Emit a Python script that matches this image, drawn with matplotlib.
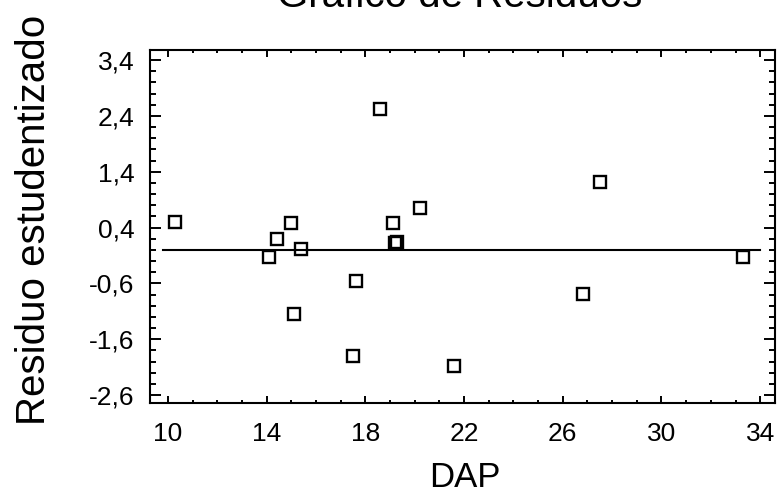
import matplotlib
matplotlib.use("Agg")
import matplotlib.pyplot as plt
import numpy as np
from matplotlib.ticker import FixedLocator, MultipleLocator, FuncFormatter

plt.rcParams["font.family"] = ["Liberation Sans", "DejaVu Sans"]

# DAP vs studentized residual
dap = [10.3, 14.1, 14.4, 15.0, 15.1, 15.4, 17.5, 17.6, 18.6, 19.1,
       19.2, 19.3, 20.2, 21.6, 26.8, 27.5, 33.3]
residuo = [0.50, -0.12, 0.19, 0.49, -1.14, 0.01, -1.90, -0.56, 2.53, 0.49,
           0.13, 0.15, 0.75, -2.08, -0.78, 1.22, -0.12]

x_ticks = [10, 14, 18, 22, 26, 30, 34]
y_ticks = [-2.6, -1.6, -0.6, 0.4, 1.4, 2.4, 3.4]
ref_line_x = [9.8, 34.0]
ref_line_y = [0.0, 0.0]

fig = plt.figure(figsize=(7.78, 4.97), dpi=100)
ax = fig.add_axes([150 / 778, 1 - 403 / 497, 625 / 778, 353 / 497])

ax.plot(ref_line_x, ref_line_y, color="black", lw=1.5)
ax.plot(dap, residuo, linestyle="none", marker="s", ms=9,
        mfc="none", mec="black", mew=1.7)

ax.set_xlim(9.27, 34.6)
ax.set_ylim(-2.74, 3.58)

ax.xaxis.set_major_locator(FixedLocator(x_ticks))
ax.xaxis.set_minor_locator(MultipleLocator(1))
ax.yaxis.set_major_locator(FixedLocator(y_ticks))
ax.yaxis.set_minor_locator(FixedLocator(np.arange(-2.6, 3.5, 0.2)))

comma = FuncFormatter(lambda v, pos: f"{v:.1f}".replace(".", ","))
ax.yaxis.set_major_formatter(comma)
ax.xaxis.set_major_formatter(FuncFormatter(lambda v, pos: f"{v:.0f}"))

ax.tick_params(axis="both", which="both", direction="in",
               top=True, right=True, color="black", width=1.4)
ax.tick_params(axis="both", which="major", labelsize=19)
ax.tick_params(axis="x", which="major", length=5, pad=14)
ax.tick_params(axis="x", which="minor", length=2.5)
ax.tick_params(axis="y", which="major", length=8, pad=11)
ax.tick_params(axis="y", which="minor", length=4.5)

for sp in ax.spines.values():
    sp.set_linewidth(1.5)

fig.text(460 / 778, 1 - 7 / 497, "Gráfico de Residuos", fontsize=29,
         ha="center", va="baseline")
fig.text(465 / 778, 1 - 487 / 497, "DAP", fontsize=25,
         ha="center", va="baseline")
fig.text(34 / 778, 1 - 220 / 497, "Residuo estudentizado", fontsize=29,
         rotation=90, ha="center", va="center")

fig.savefig("out.png", dpi=100)
